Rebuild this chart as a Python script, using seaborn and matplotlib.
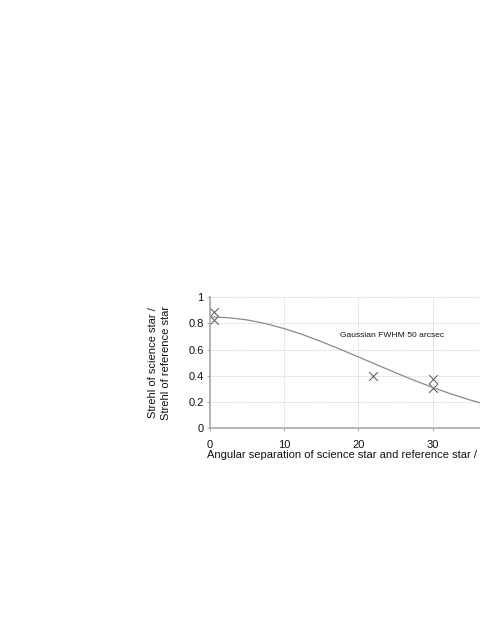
import matplotlib
matplotlib.use('Agg')
import matplotlib.pyplot as plt
import seaborn as sns
import pandas as pd

sns.set_theme(style='whitegrid')
plt.rcParams['font.family'] = ['Liberation Sans', 'DejaVu Sans']

# measured points
sep_meas = [0.5, 0.5, 22.0, 30.0, 30.0]
strehl_meas = [0.89, 0.83, 0.40, 0.38, 0.31]

# curve (Gaussian FWHM 50 arcsec)
sep_curve = [0, 2.5, 5, 7.5, 10, 12.5, 15, 17.5, 20, 22.5, 25, 27.5, 30, 32.5, 35, 37.5, 40]
strehl_curve = [0.85, 0.844, 0.827, 0.799, 0.761, 0.715, 0.662, 0.605, 0.545,
                0.485, 0.425, 0.367, 0.313, 0.263, 0.218, 0.179, 0.144]

x_ticks = [0, 10, 20, 30, 40]
y_ticks = [0, 0.2, 0.4, 0.6, 0.8, 1.0]
y_tick_labels = ['0', '0.2', '0.4', '0.6', '0.8', '1']

df_curve = pd.DataFrame({'sep': sep_curve, 'strehl': strehl_curve})
df_meas = pd.DataFrame({'sep': sep_meas, 'strehl': strehl_meas})

fig = plt.figure(figsize=(4.8, 6.21), dpi=100)
ax = fig.add_axes([0.4375, 0.310, 0.6183, 0.2114])

sns.lineplot(data=df_curve, x='sep', y='strehl', ax=ax, color='#8a8a8a', linewidth=0.9)
sns.scatterplot(data=df_meas, x='sep', y='strehl', ax=ax, marker='x', color='#555555',
                s=40, linewidth=0.7)

ax.set_xlim(0, 40)
ax.set_ylim(0, 1)
ax.set_xticks(x_ticks)
ax.set_yticks(y_ticks)
ax.set_yticklabels(y_tick_labels)
ax.grid(True, color='#d8d8d8', linestyle=(0, (2, 1)), linewidth=0.6)
ax.set_facecolor('white')

for s in ['top', 'right']:
    ax.spines[s].set_visible(False)
for s in ['left', 'bottom']:
    ax.spines[s].set_visible(True)
    ax.spines[s].set_color('#a8a8a8')
    ax.spines[s].set_linewidth(1.2)

ax.tick_params(axis='x', bottom=True, length=2.5, width=0.7, color='#a8a8a8',
               pad=6, labelsize=8, labelcolor='#111111')
ax.tick_params(axis='y', left=True, length=2.5, width=0.7, color='#a8a8a8',
               pad=2, labelsize=8, labelcolor='#111111')

ax.set_xlabel('Angular separation of science star and reference star / arcsec',
              fontsize=8, color='#111111')
ax.xaxis.label.set_va('center')
ax.xaxis.set_label_coords(0.505, -0.205)
ax.set_ylabel('Strehl of science star /\nStrehl of reference star', fontsize=8,
              color='#111111', linespacing=1.3)
ax.yaxis.label.set_va('center')
ax.yaxis.set_label_coords(-0.17, 0.5)

ax.text(24.5, 0.705, 'Gaussian FWHM 50 arcsec', fontsize=6.1, color='#111111',
        ha='center', va='center')

fig.savefig('out.png', dpi=100)
